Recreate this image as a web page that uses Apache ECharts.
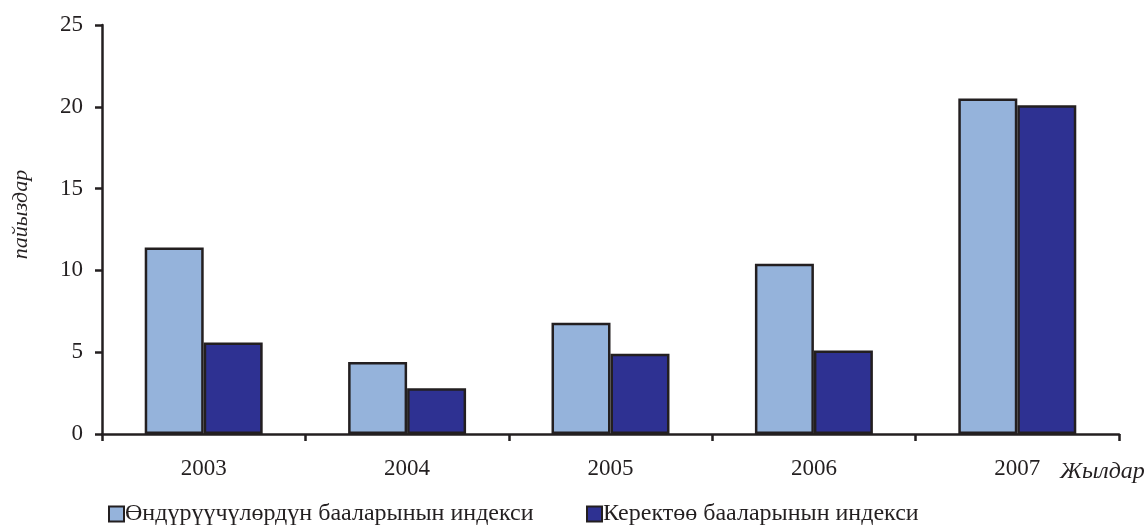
<!DOCTYPE html>
<html>
<head>
<meta charset="utf-8">
<style>
  html, body { margin: 0; padding: 0; background: #fff; }
  #chart { width: 1147px; height: 531px; }
</style>
<script src="https://cdn.jsdelivr.net/npm/echarts@6/dist/echarts.min.js"></script>
</head>
<body>
<div id="chart"></div>
<script>
// годдор
const years = ['2003', '2004', '2005', '2006', '2007'];
// Өндүрүүчүлөрдүн бааларынын индекси
const producerIdx = [11.4, 4.4, 6.8, 10.4, 20.5];
// Керектөө бааларынын индекси
const consumerIdx = [5.6, 2.8, 4.9, 5.1, 20.1];
const seriesNames = ['Өндүрүүчүлөрдүн бааларынын индекси', 'Керектөө бааларынын индекси'];

const ink = '#231F20';
const serif = '"Liberation Serif", "DejaVu Serif", serif';

const legendText = { fontFamily: serif, fontSize: 24, color: ink, padding: [0, 0, 0, -4] };

const chart = echarts.init(document.getElementById('chart'));
chart.setOption({
  animation: false,
  textStyle: { fontFamily: serif },
  grid: { left: 102, right: 28, top: 25, bottom: 97, containLabel: false, outerBoundsMode: 'none' },
  legend: [{
    left: 103,
    top: 497,
    icon: 'rect',
    itemWidth: 15,
    itemHeight: 15,
    textStyle: legendText,
    data: [seriesNames[0]]
  }, {
    left: 581,
    top: 497,
    icon: 'rect',
    itemWidth: 15,
    itemHeight: 15,
    textStyle: legendText,
    data: [seriesNames[1]]
  }],
  xAxis: {
    type: 'category',
    data: years,
    name: 'Жылдар',
    nameLocation: 'end',
    nameGap: -59,
    nameTextStyle: {
      fontFamily: serif, fontStyle: 'italic', fontSize: 24, color: ink,
      verticalAlign: 'top', padding: [26, 0, 0, 0]
    },
    axisLine: { lineStyle: { color: ink, width: 2.5 } },
    axisTick: { show: true, length: 7, lineStyle: { color: ink, width: 2.5 } },
    axisLabel: { fontFamily: serif, fontSize: 23, color: ink, margin: 23 }
  },
  yAxis: {
    type: 'value',
    min: 0,
    max: 25,
    interval: 5,
    name: 'пайыздар',
    nameLocation: 'middle',
    nameRotate: 90,
    nameGap: 70,
    nameTextStyle: { fontFamily: serif, fontStyle: 'italic', fontSize: 22, color: ink, padding: [0, 0, 0, 30] },
    splitLine: { show: false },
    axisLine: { show: true, lineStyle: { color: ink, width: 2.5 } },
    axisTick: { show: true, length: 7, lineStyle: { color: ink, width: 2.5 } },
    axisLabel: { fontFamily: serif, fontSize: 23, color: ink, margin: 19 }
  },
  series: [{
    name: seriesNames[0],
    type: 'bar',
    data: producerIdx,
    barGap: '0%',
    barCategoryGap: '42%',
    itemStyle: { color: '#95B3DB', borderColor: ink, borderWidth: 2.5 }
  }, {
    name: seriesNames[1],
    type: 'bar',
    data: consumerIdx,
    itemStyle: { color: '#2E3192', borderColor: ink, borderWidth: 2.5 }
  }]
});
</script>
</body>
</html>
